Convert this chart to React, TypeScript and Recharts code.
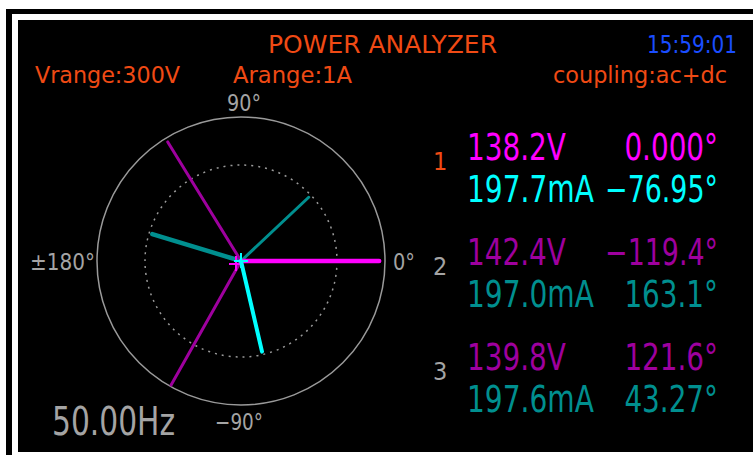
import React from "react";
import { ScatterChart, Scatter, XAxis, YAxis, ReferenceDot } from "recharts";

// screen + phasor geometry
const W = 753;
const H = 455;
const CX = 241; // centre of the phasor diagram
const CY = 261;
const RING = 144; // outer ring radius

// readings
const PHASES = ["1", "2", "3"];
const VOLTS = [138.2, 142.4, 139.8];
const VOLT_DEG = [0, -119.4, 121.6];
const AMPS_MA = [197.7, 197.0, 197.6];
const AMP_DEG = [-76.95, 163.1, 43.27];
const VOLT_FULL = 144; // V at the outer ring
const AMP_FULL = 306; // mA at the outer ring
const RINGS = [1, 2 / 3];
const ANGLE_TICKS = ["0°", "90°", "±180°", "-90°"];
const FREQ_HZ = 50.0;
const TITLE = "POWER ANALYZER";
const CLOCK = "15:59:01";
const RANGES = ["Vrange:300V", "Arange:1A"];
const COUPLING = "coupling:ac+dc";

const VOLT_COLORS = ["#ff00ff", "#9e009e", "#9e009e"];
const AMP_COLORS = ["#00ffff", "#008f8f", "#008f8f"];
const VOLT_WIDTHS = [4.5, 3, 3];
const AMP_WIDTHS = [4, 4.5, 3];
const ORANGE = "#f04a14";
const GRAY = "#a4a4a4";
const FONT = "'DejaVu Sans Condensed', 'DejaVu Sans', sans-serif";

const toRad = (d: number) => (d * Math.PI) / 180;

function phasor(mag: number, full: number, deg: number) {
  const r = (mag / full) * RING;
  return [
    { x: 0, y: 0, origin: true },
    { x: r * Math.cos(toRad(deg)), y: r * Math.sin(toRad(deg)), origin: false },
  ];
}

const fmt = (v: number) => v.toPrecision(4).replace("-", "−");

// rough width of a reading in "digit" units, used to squeeze the text
function textUnits(s: string) {
  let u = 0;
  for (const c of s) {
    if (c === "." || c === ":") u += 0.6;
    else if (c === "°") u += 0.75;
    else if (c === "m") u += 1.5;
    else if (c === "A") u += 1.15;
    else if (c === "V") u += 1.05;
    else if (c === "−") u += 1.1;
    else u += 1;
  }
  return u;
}

const makeShape = (marker?: { color: string; dx: number; dy: number }) => (p: any) => {
  if (!marker || !p.payload || !p.payload.origin) return <g />;
  const x = p.cx + marker.dx;
  const y = p.cy + marker.dy;
  return (
    <g stroke={marker.color} strokeWidth={2}>
      <line x1={x - 7} y1={y} x2={x + 7} y2={y} />
      <line x1={x} y1={y - 8} x2={x} y2={y + 7} />
    </g>
  );
};

function Label(props: {
  x: number;
  y: number;
  w?: number;
  size: number;
  color: string;
  anchor?: "start" | "middle" | "end";
  children: string;
}) {
  const { x, y, w, size, color, anchor = "start", children } = props;
  return (
    <text
      x={x}
      y={y}
      fontSize={size}
      fill={color}
      textAnchor={anchor}
      fontFamily={FONT}
      {...(w ? { textLength: w, lengthAdjust: "spacingAndGlyphs" } : {})}
    >
      {children}
    </text>
  );
}

export default function App() {
  const series: { data: any[]; color: string; width: number; marker?: any }[] = [];
  [2, 1].forEach((i) => {
    series.push({ data: phasor(AMPS_MA[i], AMP_FULL, AMP_DEG[i]), color: AMP_COLORS[i], width: AMP_WIDTHS[i] });
  });
  [2, 1].forEach((i) => {
    series.push({ data: phasor(VOLTS[i], VOLT_FULL, VOLT_DEG[i]), color: VOLT_COLORS[i], width: VOLT_WIDTHS[i] });
  });
  series.push({
    data: phasor(VOLTS[0], VOLT_FULL, VOLT_DEG[0]),
    color: VOLT_COLORS[0],
    width: VOLT_WIDTHS[0],
    marker: { color: VOLT_COLORS[0], dx: -5, dy: 3 },
  });
  series.push({
    data: phasor(AMPS_MA[0], AMP_FULL, AMP_DEG[0]),
    color: AMP_COLORS[0],
    width: AMP_WIDTHS[0],
    marker: { color: AMP_COLORS[0], dx: 0, dy: 0 },
  });

  const BIG = 37;
  const UNIT = 17.5;
  const rowBase = [160, 265, 370];

  return (
    <div style={{ position: "fixed", left: 0, top: 0, width: W, height: H, background: "#fff", overflow: "hidden" }}>
      <div style={{ position: "absolute", left: 6, top: 9, width: W - 6, height: H - 9, background: "#000" }} />
      <div style={{ position: "absolute", left: 12, top: 14, width: W - 12, height: H - 14, background: "#fff" }} />
      <div style={{ position: "absolute", left: 18, top: 20, width: W - 18, height: 432, background: "#000" }} />

      <div style={{ position: "absolute", left: 0, top: 0 }}>
        <ScatterChart width={W} height={H} margin={{ top: 0, right: 0, bottom: 0, left: 0 }}>
          <XAxis type="number" dataKey="x" domain={[-CX, W - CX]} hide allowDataOverflow />
          <YAxis type="number" dataKey="y" domain={[-(H - CY), CY]} hide allowDataOverflow />
          {RINGS.map((f, i) => (
            <ReferenceDot
              key={"ring" + i}
              x={0}
              y={0}
              r={RING * f}
              fill="none"
              stroke="#9a9a9a"
              strokeWidth={1.5}
              strokeDasharray={i === 0 ? undefined : "2 5"}
            />
          ))}
          {series.map((s, i) => (
            <Scatter
              key={"ph" + i}
              data={s.data}
              fill={s.color}
              line={{ stroke: s.color, strokeWidth: s.width, strokeLinecap: "round" }}
              shape={makeShape(s.marker)}
              isAnimationActive={false}
            />
          ))}
        </ScatterChart>
      </div>

      <svg width={W} height={H} style={{ position: "absolute", left: 0, top: 0, pointerEvents: "none" }}>
        <Label x={268} y={53} w={229} size={24} color={ORANGE}>{TITLE}</Label>
        <Label x={647} y={53} w={90} size={24} color="#1a4dff">{CLOCK}</Label>
        <Label x={35} y={83} w={145} size={23} color={ORANGE}>{RANGES[0]}</Label>
        <Label x={233} y={83} w={119} size={23} color={ORANGE}>{RANGES[1]}</Label>
        <Label x={553} y={83} w={174} size={23} color={ORANGE}>{COUPLING}</Label>

        <Label x={393} y={270} w={22} size={23} color={GRAY}>{ANGLE_TICKS[0]}</Label>
        <Label x={227} y={111} w={34} size={23} color={GRAY}>{ANGLE_TICKS[1]}</Label>
        <Label x={30} y={270} w={65} size={23} color={GRAY}>{ANGLE_TICKS[2]}</Label>
        <Label x={215} y={430} w={48} size={23} color={GRAY}>{ANGLE_TICKS[3].replace("-", "−")}</Label>

        <Label x={52} y={435} w={123} size={39} color={GRAY}>{FREQ_HZ.toFixed(2) + "Hz"}</Label>

        {PHASES.map((p, i) => {
          const vTxt = VOLTS[i].toFixed(1) + "V";
          const vaTxt = fmt(VOLT_DEG[i]) + "°";
          const aTxt = AMPS_MA[i].toFixed(1) + "mA";
          const aaTxt = fmt(AMP_DEG[i]) + "°";
          const b = rowBase[i];
          return (
            <g key={p}>
              <Label x={433} y={b + 10} size={25} color={i === 0 ? ORANGE : GRAY}>{p}</Label>
              <Label x={467} y={b} w={textUnits(vTxt) * UNIT} size={BIG} color={VOLT_COLORS[i]}>{vTxt}</Label>
              <Label x={718} y={b} w={textUnits(vaTxt) * UNIT} size={BIG} color={VOLT_COLORS[i]} anchor="end">{vaTxt}</Label>
              <Label x={467} y={b + 42} w={textUnits(aTxt) * UNIT} size={BIG} color={AMP_COLORS[i]}>{aTxt}</Label>
              <Label x={718} y={b + 42} w={textUnits(aaTxt) * UNIT} size={BIG} color={AMP_COLORS[i]} anchor="end">{aaTxt}</Label>
            </g>
          );
        })}
      </svg>
    </div>
  );
}
